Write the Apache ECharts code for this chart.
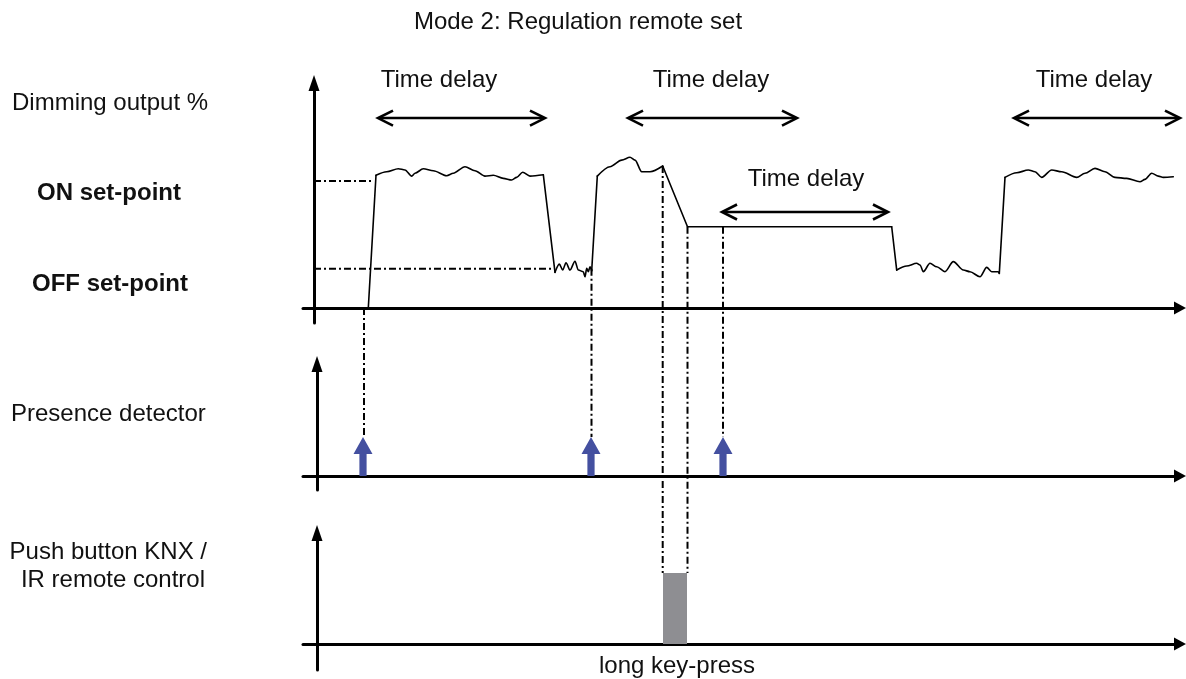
<!DOCTYPE html>
<html>
<head>
<meta charset="utf-8">
<script src="https://cdn.jsdelivr.net/npm/echarts@6/dist/echarts.min.js"></script>
<style>
html,body{margin:0;padding:0;background:#fff;}
#c{width:1186px;height:679px;}
</style>
</head>
<body>
<div id="c"></div>
<script>
// ---------------- data (time in arbitrary units, dimming in % of ON set-point) ----------------
const dimmingCurve = [
  [5.43,0],[6.2,104.5],[7.27,107.3],[8.43,109.7],[9.1,108.7],[9.77,103.9],[10.1,106.1],[10.93,109.7],
  [11.93,108.1],[13.27,104.2],[13.93,106.1],[15.1,111.3],[16.1,108.1],[17.1,103.9],[17.93,104.5],
  [18.93,102.1],[19.77,100.8],[20.27,102.9],[20.87,106.9],[21.6,103.9],[22.93,105.0],
  [24.1,28.1],[24.53,34.6],[24.87,29.9],[25.2,35.7],[25.6,29.9],[26.1,36.8],[26.43,29.9],[26.93,28.6],
  [27.1,24.6],[27.27,31.3],[27.43,28.6],[27.6,32.5],[27.77,29.4],
  [28.33,103.9],[29.6,111.3],[30.77,116.5],[31.6,118.7],[32.1,116.5],[32.77,107.3],[33.6,107.3],[34.87,111.8],
  [37.35,64.0],[57.77,64.0],
  [58.27,29.9],[59.27,33.1],[60.27,35.2],[60.6,33.9],[60.93,28.6],[61.6,35.2],[62.27,32.5],[63.1,28.6],
  [63.93,36.5],[64.93,29.9],[65.6,28.6],[66.6,24.6],[67.27,32.0],[67.77,28.6],[68.43,28.6],[68.53,27.3],
  [69.1,102.9],[70.27,106.5],[71.43,108.7],[72.1,107.3],[72.77,102.9],[73.77,108.7],[74.77,107.3],
  [76.27,102.9],[77.1,106.1],[78.1,110.0],[79.1,107.3],[80.1,102.9],[81.27,102.1],[82.6,99.4],
  [83.1,101.3],[83.77,106.1],[84.43,103.9],[84.93,102.9],[85.93,103.4]
];
// times at which the dimming curve has a sharp corner (edges between waves)
const curveCorners = [6.2, 22.93, 24.1, 27.77, 28.33, 34.87, 37.35, 57.77, 58.27, 68.53, 69.1];
const onSetpoint = 100;
const offSetpoint = 31;
const onRefEnd = 5.8;     // time where ON reference meets the rising edge
const offRefEnd = 24.1;   // time where OFF reference meets the falling edge
const presenceEvents = [4.9, 27.7, 40.9];
const buttonPress = [34.9, 37.3];           // long key-press start / end
// [start, end, dimming level of arrow, label time, label level]
const timeDelays = [
  [6.4, 23.1, 149.6, 12.5, 179.5],
  [31.4, 48.3, 149.6, 39.7, 179.5],
  [70.0, 86.6, 149.6, 78.0, 179.5],
  [40.8, 57.4, 75.6, 49.2, 101.6]
];
// [time, upper level on dimming scale, target channel]
const connectors = [
  [5.0, 0, 'presence'],
  [27.75, offSetpoint, 'presence'],
  [34.87, 111.8, 'button'],
  [37.35, 64, 'button'],
  [40.9, 64, 'presence']
];
const timeRange = [-1.1, 86.6];

// ---------------- styles ----------------
const FONT = '"Liberation Sans", Arial, Helvetica, sans-serif';
const FS = 24;
const DASH = [7, 3, 2, 3];
const axisLineCommon = {
  show: true,
  lineStyle: { color: '#000', width: 3 },
  symbol: ['none', 'triangle']
};

function xAxisFor(i) {
  return {
    type: 'value', gridIndex: i, min: timeRange[0], max: timeRange[1],
    axisLine: Object.assign({}, axisLineCommon, { onZero: true, symbolSize: [13, 12] }),
    axisTick: { show: false }, axisLabel: { show: false }, splitLine: { show: false }
  };
}
function yAxisFor(i, min, max, off) {
  return {
    type: 'value', gridIndex: i, min: min, max: max, position: 'left', offset: off,
    axisLine: Object.assign({}, axisLineCommon, { onZero: false, symbolSize: [11, 16] }),
    axisTick: { show: false }, axisLabel: { show: false }, splitLine: { show: false }
  };
}

const chart = echarts.init(document.getElementById('c'), null, { renderer: 'canvas' });

function text(x, y, str, opts) {
  return {
    type: 'text', x: x, y: y,
    style: Object.assign({ text: str, fontSize: FS, fontFamily: FONT, fill: '#111', align: 'left', verticalAlign: 'middle' }, opts || {})
  };
}

// split the curve at its sharp corners: waves are smoothed, edges stay straight
const curvePieces = [];
(function () {
  let cur = [dimmingCurve[0]];
  for (let i = 1; i < dimmingCurve.length; i++) {
    cur.push(dimmingCurve[i]);
    if (curveCorners.indexOf(dimmingCurve[i][0]) >= 0) {
      curvePieces.push(cur);
      cur = [dimmingCurve[i]];
    }
  }
  if (cur.length > 1) curvePieces.push(cur);
})();

const series = [
  {
    id: 'onRef', type: 'line', xAxisIndex: 0, yAxisIndex: 0, showSymbol: false, silent: true,
    data: [[0, onSetpoint], [onRefEnd, onSetpoint]],
    lineStyle: { color: '#000', width: 2, type: DASH }
  },
  {
    id: 'offRef', type: 'line', xAxisIndex: 0, yAxisIndex: 0, showSymbol: false, silent: true,
    data: [[0, offSetpoint], [offRefEnd, offSetpoint]],
    lineStyle: { color: '#000', width: 2, type: DASH }
  }
];
curvePieces.forEach(function (p, k) {
  series.push({
    id: 'dimming' + k, type: 'line', xAxisIndex: 0, yAxisIndex: 0, showSymbol: false, silent: true,
    data: p, smooth: p.length > 2 ? 0.3 : false, smoothMonotone: 'x',
    lineStyle: { color: '#000', width: 1.6, cap: 'round', join: 'round' }
  });
});
series.push(
  {
    id: 'timeDelay', type: 'custom', xAxisIndex: 0, yAxisIndex: 0, clip: false, silent: true,
    data: timeDelays,
    renderItem: function (params, api) {
      const a = api.coord([api.value(0), api.value(2)]);
      const b = api.coord([api.value(1), api.value(2)]);
      const lp = api.coord([api.value(3), api.value(4)]);
      const hl = 15, hw = 7.5;
      const st = { stroke: '#000', lineWidth: 2.6, fill: null };
      return {
        type: 'group',
        children: [
          { type: 'line', shape: { x1: a[0] + 1, y1: a[1], x2: b[0] - 1, y2: b[1] }, style: st },
          { type: 'polyline', shape: { points: [[a[0] + hl, a[1] - hw], [a[0], a[1]], [a[0] + hl, a[1] + hw]] }, style: st },
          { type: 'polyline', shape: { points: [[b[0] - hl, b[1] - hw], [b[0], b[1]], [b[0] - hl, b[1] + hw]] }, style: st },
          { type: 'text', x: lp[0], y: lp[1], style: { text: 'Time delay', fontSize: FS, fontFamily: FONT, fill: '#111', align: 'center', verticalAlign: 'middle' } }
        ]
      };
    }
  },
  {
    id: 'presence', type: 'custom', xAxisIndex: 1, yAxisIndex: 1, clip: false, silent: true,
    data: presenceEvents.map(function (t) { return [t, 1]; }),
    renderItem: function (params, api) {
      const base = api.coord([api.value(0), 0]);
      const tip = api.coord([api.value(0), api.value(1)]);
      const x = base[0], sw = 3.6, hw = 9.5, hh = 17;
      return {
        type: 'polygon',
        shape: { points: [[x - sw, base[1]], [x - sw, tip[1] + hh], [x - hw, tip[1] + hh], [x, tip[1]], [x + hw, tip[1] + hh], [x + sw, tip[1] + hh], [x + sw, base[1]]] },
        style: { fill: '#4450A0' }
      };
    }
  },
  {
    id: 'button', type: 'custom', xAxisIndex: 2, yAxisIndex: 2, clip: false, silent: true, z: 1,
    data: [[buttonPress[0], buttonPress[1], 1]],
    renderItem: function (params, api) {
      const p1 = api.coord([api.value(0), api.value(2)]);
      const p2 = api.coord([api.value(1), 0]);
      return {
        type: 'rect',
        shape: { x: p1[0], y: p1[1], width: p2[0] - p1[0], height: p2[1] - p1[1] },
        style: { fill: '#8E8E92' }
      };
    }
  }
);

const option = {
  animation: false,
  backgroundColor: '#fff',
  grid: [
    { left: 303, top: 83, width: 877, height: 240 },
    { left: 303, top: 364, width: 877, height: 126 },
    { left: 303, top: 533, width: 877, height: 137 }
  ],
  xAxis: [xAxisFor(0), xAxisFor(1), xAxisFor(2)],
  yAxis: [
    yAxisFor(0, -11.8, 177.2, -11),
    yAxisFor(1, -0.36, 2.87, -14),
    yAxisFor(2, -0.366, 1.563, -14)
  ],
  graphic: [
    text(578, 22, 'Mode 2: Regulation remote set', { align: 'center' }),
    text(12, 103, 'Dimming output %'),
    text(37, 193, 'ON set-point', { fontWeight: 'bold' }),
    text(32, 284, 'OFF set-point', { fontWeight: 'bold' }),
    text(11, 414, 'Presence detector'),
    text(207, 552, 'Push button KNX /', { align: 'right' }),
    text(205, 580, 'IR remote control', { align: 'right' }),
    text(677, 666, 'long key-press', { align: 'center' })
  ],
  series: series
};

chart.setOption(option);

// Connector lines: lower ends are the tops of the presence arrows / key-press bar,
// converted into the dimming panel's scale through the library's axes.
const presTopPx = chart.convertToPixel({ gridIndex: 1 }, [0, 1])[1];
const btnTopPx = chart.convertToPixel({ gridIndex: 2 }, [0, 1])[1];
const presLevel = chart.convertFromPixel({ gridIndex: 0 }, [0, presTopPx])[1];
const btnLevel = chart.convertFromPixel({ gridIndex: 0 }, [0, btnTopPx])[1];

const connectorData = connectors.map(function (c) {
  return [c[0], c[1], c[2] === 'presence' ? presLevel : btnLevel];
});

option.series.push({
  id: 'connectors', type: 'custom', xAxisIndex: 0, yAxisIndex: 0, clip: false, silent: true, z: 3,
  data: connectorData,
  renderItem: function (params, api) {
    const p1 = api.coord([api.value(0), api.value(1)]);
    const p2 = api.coord([api.value(0), api.value(2)]);
    return {
      type: 'line',
      shape: { x1: p1[0], y1: p1[1], x2: p2[0], y2: p2[1] },
      style: { stroke: '#000', lineWidth: 2, lineDash: DASH }
    };
  }
});
chart.setOption(option);
</script>
</body>
</html>
